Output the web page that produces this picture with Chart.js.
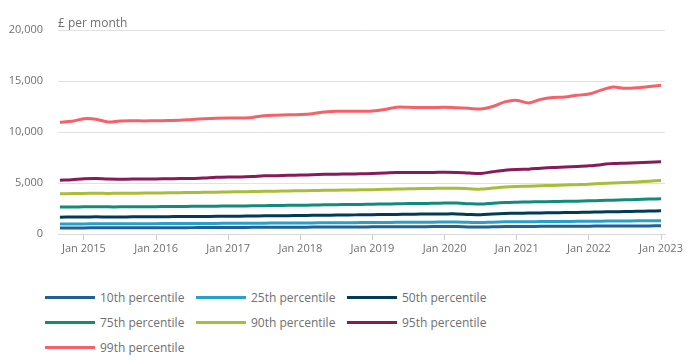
<!DOCTYPE html>
<html>
<head>
<meta charset="utf-8">
<script src="https://cdn.jsdelivr.net/npm/chart.js@4/dist/chart.umd.min.js"></script>
<style>
  html, body { margin: 0; padding: 0; background: #fff; }
  body { width: 700px; height: 360px; position: relative; overflow: hidden; font-family: 'Open Sans', sans-serif; }
  #wrap { position: absolute; left: 0; top: 0; width: 700px; height: 266px; }
  #legend { position: absolute; left: 45px; top: 285px; width: 460px; }
  .item { display: inline-block; width: 151px; height: 25px; line-height: 25px; font-size: 12px; color: #707071; white-space: nowrap; }
  .swatch { display: inline-block; width: 50px; height: 3px; vertical-align: middle; margin-right: 5px; position: relative; top: -1px; }
</style>
</head>
<body>
<div id="wrap"><canvas id="chart" width="700" height="266"></canvas></div>
<div id="legend"></div>
<script>
// two-monthly points, Sep 2014 .. Jan 2023 (year + month offset)
const months = [];
for (let i = 0; i <= 50; i++) months.push(2014 + 8 / 12 + i * 2 / 12);

const tickYears = [2015, 2016, 2017, 2018, 2019, 2020, 2021, 2022, 2023];

const p10 = [590,595,600,605,605,605,610,610,615,620,620,625,630,635,640,645,650,655,660,665,670,675,680,685,690,695,700,705,710,715,720,725,730,725,690,680,710,730,740,745,750,755,760,765,770,775,780,785,790,795,800];
const p25 = [980,985,990,1000,1000,1000,1005,1010,1015,1020,1025,1030,1035,1040,1045,1050,1060,1065,1070,1080,1085,1090,1100,1105,1110,1120,1125,1130,1140,1150,1155,1160,1170,1170,1140,1120,1160,1190,1200,1205,1215,1220,1230,1240,1250,1260,1270,1280,1290,1300,1310];
const p50 = [1650,1660,1670,1680,1670,1670,1680,1680,1690,1700,1710,1710,1720,1730,1740,1750,1760,1780,1790,1800,1810,1830,1840,1860,1870,1880,1890,1910,1920,1930,1950,1960,1970,1970,1920,1890,1960,2010,2040,2050,2070,2080,2100,2120,2140,2160,2180,2200,2220,2250,2280];
const p75 = [2640,2650,2660,2670,2660,2660,2670,2670,2680,2690,2700,2710,2720,2730,2740,2750,2760,2780,2790,2810,2820,2840,2860,2870,2890,2900,2920,2940,2960,2980,2990,3010,3030,3030,2970,2930,3020,3090,3120,3140,3160,3180,3200,3220,3250,3290,3320,3350,3380,3420,3460];
const p90 = [3950,3960,3980,3990,3980,3990,4000,4010,4020,4040,4050,4070,4090,4100,4120,4140,4160,4180,4200,4220,4240,4260,4280,4300,4310,4330,4350,4380,4410,4430,4450,4470,4490,4480,4440,4400,4500,4600,4660,4690,4730,4760,4800,4840,4880,4950,5010,5060,5110,5180,5250];
const p95 = [5270,5330,5420,5450,5380,5370,5380,5390,5400,5410,5430,5450,5500,5560,5590,5600,5640,5700,5720,5750,5780,5810,5850,5870,5880,5900,5930,5980,6020,6030,6040,6040,6050,6040,5980,5940,6100,6250,6330,6360,6450,6520,6560,6610,6680,6800,6900,6940,6980,7030,7080];
const p99 = [10950,11050,11300,11250,10980,11080,11100,11090,11100,11120,11140,11230,11300,11350,11370,11370,11420,11600,11650,11680,11720,11800,11950,12040,12030,12030,12050,12200,12430,12420,12400,12400,12420,12380,12320,12250,12500,12950,13100,12850,13200,13380,13420,13600,13720,14100,14400,14280,14330,14450,14580];

const seriesNames = ['10th percentile','25th percentile','50th percentile','75th percentile','90th percentile','95th percentile','99th percentile'];
const seriesColors = ['#206095','#27a0cc','#003c57','#118c7b','#a8bd3a','#871a5b','#f66068'];
const seriesValues = [p10, p25, p50, p75, p90, p95, p99];

Chart.defaults.font.family = "'Open Sans', sans-serif";
Chart.defaults.color = '#707071';

const unitLabel = {
  id: 'unitLabel',
  afterDraw(chart) {
    const c = chart.ctx;
    c.save();
    c.font = "12px 'Open Sans', sans-serif";
    c.fillStyle = '#707071';
    c.textBaseline = 'alphabetic';
    c.fillText('£ per month', chart.chartArea.left, chart.chartArea.top - 3);
    c.restore();
  }
};

new Chart(document.getElementById('chart'), {
  type: 'line',
  data: {
    datasets: seriesValues.map((vals, i) => ({
      label: seriesNames[i],
      data: vals.map((v, j) => ({ x: months[j], y: v })),
      borderColor: seriesColors[i],
      backgroundColor: seriesColors[i],
      borderWidth: 3,
      pointRadius: 0,
      tension: 0.3,
      fill: false
    }))
  },
  options: {
    responsive: false,
    animation: false,
    layout: { padding: { top: 30, right: 35, left: 0, bottom: 0 } },
    plugins: { legend: { display: false }, tooltip: { enabled: false } },
    scales: {
      x: {
        type: 'linear',
        min: 2014.64,
        max: 2023.055,
        afterBuildTicks: s => { s.ticks = tickYears.map(v => ({ value: v })); },
        afterFit: s => { s.height = 32; },
        ticks: {
          font: { size: 11 },
          color: '#707071',
          padding: 2,
          maxRotation: 0,
          autoSkip: false,
          callback: v => 'Jan ' + v
        },
        grid: { drawOnChartArea: false, drawTicks: true, tickLength: 6, color: '#cccccc' },
        border: { color: '#d9d9d9' }
      },
      y: {
        min: 0,
        max: 20000,
        afterFit: s => { s.width = 58; },
        ticks: {
          stepSize: 5000,
          font: { size: 11 },
          color: '#707071',
          padding: 15,
          callback: v => v.toLocaleString('en-GB')
        },
        grid: { color: '#e2e2e2', drawTicks: false },
        border: { display: false }
      }
    }
  },
  plugins: [unitLabel]
});

const legend = document.getElementById('legend');
seriesNames.forEach((name, i) => {
  const item = document.createElement('span');
  item.className = 'item';
  const sw = document.createElement('span');
  sw.className = 'swatch';
  sw.style.background = seriesColors[i];
  item.appendChild(sw);
  item.appendChild(document.createTextNode(name));
  legend.appendChild(item);
});
</script>
</body>
</html>
